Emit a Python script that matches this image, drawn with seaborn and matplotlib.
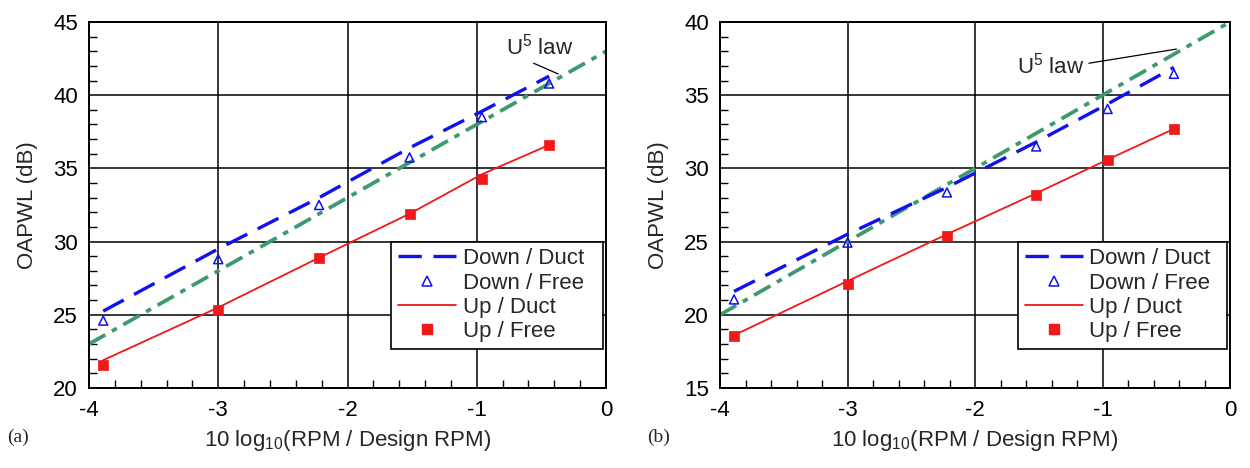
import numpy as np
import pandas as pd
import matplotlib
matplotlib.use("Agg")
import matplotlib.pyplot as plt
import seaborn as sns
from matplotlib.lines import Line2D
from matplotlib.ticker import MultipleLocator

# ---------------- data ----------------
x_pts = [-3.89, -3.0, -2.22, -1.52, -0.96, -0.44]

# panel (a)
a_down_duct = [25.25, 29.5, 33.0, 36.4, 38.9, 41.3]
a_down_free = [24.6, 28.8, 32.5, 35.75, 38.5, 40.8]
a_up_duct = [21.9, 25.5, 28.9, 31.9, 34.6, 36.6]
a_up_free = [21.55, 25.3, 28.9, 31.9, 34.3, 36.6]
a_law_x = [-4.0, 0.0]
a_law_y = [23.0, 43.0]

# panel (b)
b_down_duct = [21.6, 25.5, 28.7, 31.8, 34.4, 36.9]
b_down_free = [21.05, 24.93, 28.36, 31.5, 34.06, 36.46]
b_up_duct = [18.6, 22.3, 25.5, 28.3, 30.6, 32.7]
b_up_free = [18.54, 22.12, 25.39, 28.2, 30.57, 32.69]
b_law_x = [-4.0, 0.0]
b_law_y = [20.0, 40.0]

legend_labels = ["Down / Duct", "Down / Free", "Up / Duct", "Up / Free"]
panel_tags = ["(a)", "(b)"]
ylims = [(20, 45), (15, 40)]
xlabel = "10 log$_{10}$(RPM / Design RPM)"
ylabel = "OAPWL (dB)"
law_text = "U$^{5}$ law"

# ---------------- style ----------------
sns.set_style("white")
plt.rcParams["font.family"] = ["Liberation Sans", "DejaVu Sans"]
plt.rcParams["mathtext.fontset"] = "custom"
plt.rcParams["mathtext.rm"] = "Liberation Sans"
plt.rcParams["mathtext.it"] = "Liberation Sans"
plt.rcParams["axes.unicode_minus"] = False

BLUE = "#1010f0"
RED = "#f01818"
GREEN = "#3d9a6e"
FS = 16

fig = plt.figure(figsize=(12.5, 4.68), dpi=100)
axA = fig.add_axes([0.0712, 0.171, 0.4136, 0.782])
axB = fig.add_axes([0.576, 0.171, 0.408, 0.782])

panels = [
    (axA, a_down_duct, a_down_free, a_up_duct, a_up_free, a_law_x, a_law_y),
    (axB, b_down_duct, b_down_free, b_up_duct, b_up_free, b_law_x, b_law_y),
]

for i, (ax, dd, dfree, ud, ufree, lx, ly) in enumerate(panels):
    sns.lineplot(x=lx, y=ly, ax=ax, color=GREEN, lw=2.7, zorder=2)
    ax.lines[-1].set_dashes((5, 2, 1.5, 2))
    sns.lineplot(x=x_pts, y=ud, ax=ax, color=RED, lw=1.3, zorder=3)
    sns.lineplot(x=x_pts, y=dd, ax=ax, color=BLUE, lw=2.4, zorder=3)
    ax.lines[-1].set_dashes((7, 3.5))
    sns.scatterplot(x=x_pts, y=dfree, ax=ax, marker="^", s=42,
                    facecolor="none", edgecolor=BLUE, linewidth=1.1, zorder=4)
    sns.scatterplot(x=x_pts, y=ufree, ax=ax, marker="s", s=60,
                    color=RED, edgecolor=RED, linewidth=0.5, zorder=4)

    ax.set_xlim(-4, 0)
    ax.set_ylim(*ylims[i])
    ax.xaxis.set_major_locator(MultipleLocator(1))
    ax.xaxis.set_minor_locator(MultipleLocator(0.2))
    ax.yaxis.set_major_locator(MultipleLocator(5))
    ax.yaxis.set_minor_locator(MultipleLocator(1))
    ax.grid(True, which="major", color="black", lw=1.1)
    ax.set_axisbelow(True)
    ax.tick_params(axis="both", which="major", direction="in", length=0,
                   labelsize=FS, colors="black")
    ax.tick_params(axis="x", which="major", pad=9)
    ax.tick_params(axis="y", which="major", pad=8)
    ax.tick_params(axis="x", which="minor", direction="in", length=6,
                   width=1.0, bottom=True, top=False, color="black")
    ax.tick_params(axis="y", which="minor", direction="in", length=6,
                   width=1.0, left=True, right=False, color="black")
    for sp in ax.spines.values():
        sp.set_color("black")
        sp.set_linewidth(1.4)
    ax.set_xlabel(xlabel, fontsize=FS, labelpad=5)
    ax.set_ylabel(ylabel, fontsize=FS, labelpad=11)

    handles = [
        Line2D([], [], color=BLUE, lw=2.4, dashes=(7, 3.5)),
        Line2D([], [], color=BLUE, marker="^", markersize=6.5, markerfacecolor="none",
               markeredgewidth=1.1, linestyle="none"),
        Line2D([], [], color=RED, lw=1.3),
        Line2D([], [], color=RED, marker="s", markersize=7.5, linestyle="none"),
    ]
    leg = ax.legend(handles, legend_labels, loc="upper left",
                    bbox_to_anchor=(0.585, 0.0, 0.41, 0.40), mode="expand",
                    fontsize=FS, frameon=True, fancybox=False, framealpha=1,
                    edgecolor="black", handlelength=2.6, handletextpad=0.3,
                    labelspacing=0.15, borderpad=0.3, borderaxespad=0)
    leg.get_frame().set_linewidth(1.2)
    leg.set_zorder(6)

# panel tags
fig.text(0.006, 0.056, panel_tags[0], fontsize=14, family="Liberation Serif")
fig.text(0.518, 0.056, panel_tags[1], fontsize=14, family="Liberation Serif")

# U^5 law annotations
axA.annotate(law_text, xy=(-0.37, 41.45), xytext=(-0.77, 42.75),
             fontsize=FS, ha="left", va="baseline",
             arrowprops=dict(arrowstyle="-", color="black", lw=0.9,
                             shrinkA=0, shrinkB=0, relpos=(0.38, -0.1)),
             zorder=7)
axB.annotate(law_text, xy=(-0.42, 38.15), xytext=(-1.67, 36.5),
             fontsize=FS, ha="left", va="baseline",
             arrowprops=dict(arrowstyle="-", color="black", lw=0.9,
                             shrinkA=1, shrinkB=0, relpos=(1.0, 0.55)),
             zorder=7)

fig.savefig("out.png", dpi=100)
